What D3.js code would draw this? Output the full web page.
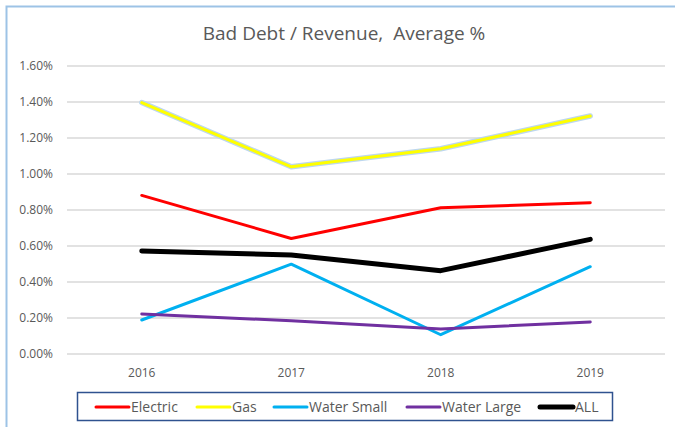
<!DOCTYPE html>
<html lang="en">
<head>
<meta charset="utf-8">
<title>Bad Debt / Revenue</title>
<script src="https://d3js.org/d3.v7.min.js"></script>
<style>
  body { margin: 0; background: #fff; }
  text { font-family: "Open Sans", "Noto Sans", sans-serif; fill: #595959; }
</style>
</head>
<body>
<script>
// data
var years = ["2016", "2017", "2018", "2019"];
var electric = [0.881, 0.642, 0.812, 0.840];
var gas = [1.397, 1.040, 1.140, 1.322];
var waterSmall = [0.189, 0.499, 0.107, 0.485];
var waterLarge = [0.222, 0.185, 0.139, 0.178];
var all = [0.572, 0.550, 0.463, 0.637];
var yTicks = [0, 0.2, 0.4, 0.6, 0.8, 1.0, 1.2, 1.4, 1.6];

var series = [
  {name: "Electric", values: electric, color: "#FF0000", width: 3},
  {name: "Gas", values: gas, color: "#FFFF00", width: 3, glow: true},
  {name: "Water Small", values: waterSmall, color: "#00B0F0", width: 3},
  {name: "Water Large", values: waterLarge, color: "#7030A0", width: 3},
  {name: "ALL", values: all, color: "#000000", width: 5}
];

var w = 675, h = 427;

var svg = d3.select("body").append("svg")
    .attr("width", w)
    .attr("height", h);

// chart frame (only left/top visible)
svg.append("path")
    .attr("d", "M6.5," + h + "V6.5H" + w)
    .attr("fill", "none")
    .attr("stroke", "#9DC3E6")
    .attr("stroke-width", 2);

var x = d3.scaleBand().domain(years).range([67, 665]);
var y = d3.scaleLinear().domain([0, 1.6]).range([354, 66]);

// gridlines
svg.append("g")
  .selectAll("line")
  .data(yTicks)
  .enter().append("line")
    .attr("x1", 67)
    .attr("x2", 665)
    .attr("y1", d => y(d))
    .attr("y2", d => y(d))
    .attr("stroke", "#D9D9D9")
    .attr("stroke-width", 1.3);

// y axis labels
var yAxis = svg.append("g")
    .attr("transform", "translate(56,0)")
    .call(d3.axisLeft(y).tickValues(yTicks).tickFormat(d => d.toFixed(2) + "%").tickSize(0));
yAxis.select(".domain").remove();
yAxis.selectAll("text")
    .attr("x", -3)
    .style("font-size", "12px")
    .style("fill", "#595959")
    .style("font-family", "'Open Sans', sans-serif");

// x axis labels
var xAxis = svg.append("g")
    .attr("transform", "translate(0,365)")
    .call(d3.axisBottom(x).tickSize(0));
xAxis.select(".domain").remove();
xAxis.selectAll("text")
    .attr("y", 3)
    .style("font-size", "12px")
    .style("fill", "#595959")
    .style("font-family", "'Open Sans', sans-serif");

// lines
var line = d3.line()
    .x((d, i) => x(years[i]) + x.bandwidth() / 2)
    .y(d => y(d));

series.forEach(function(s) {
  if (s.glow) {
    svg.append("path")
        .attr("d", line(s.values))
        .attr("fill", "none")
        .attr("stroke", "#BDD7EE")
        .attr("stroke-width", s.width + 2.5)
        .attr("stroke-linejoin", "round")
        .attr("stroke-linecap", "round");
  }
  svg.append("path")
      .attr("d", line(s.values))
      .attr("fill", "none")
      .attr("stroke", s.color)
      .attr("stroke-width", s.width)
      .attr("stroke-linejoin", "round")
      .attr("stroke-linecap", "round");
});

// title
svg.append("text")
    .attr("x", 344)
    .attr("y", 40)
    .attr("text-anchor", "middle")
    .style("font-size", "19px")
    .style("white-space", "pre")
    .style("fill", "#595959")
    .text("Bad Debt / Revenue,  Average %");

// legend
svg.append("rect")
    .attr("x", 77.5)
    .attr("y", 392.5)
    .attr("width", 535)
    .attr("height", 28)
    .attr("fill", "#fff")
    .attr("stroke", "#2F528F")
    .attr("stroke-width", 1.5);

var legendX = [96, 197, 274, 407, 540];
var leg = svg.append("g")
  .selectAll("g")
  .data(series)
  .enter().append("g")
    .attr("transform", (d, i) => "translate(" + legendX[i] + ",407)");

leg.append("line")
    .attr("x1", 0)
    .attr("x2", 33)
    .attr("stroke", d => d.color)
    .attr("stroke-width", d => d.width)
    .attr("stroke-linecap", "round");

leg.append("text")
    .attr("x", 35)
    .attr("dy", "0.35em")
    .style("font-size", "14px")
    .text(d => d.name);
</script>
</body>
</html>
